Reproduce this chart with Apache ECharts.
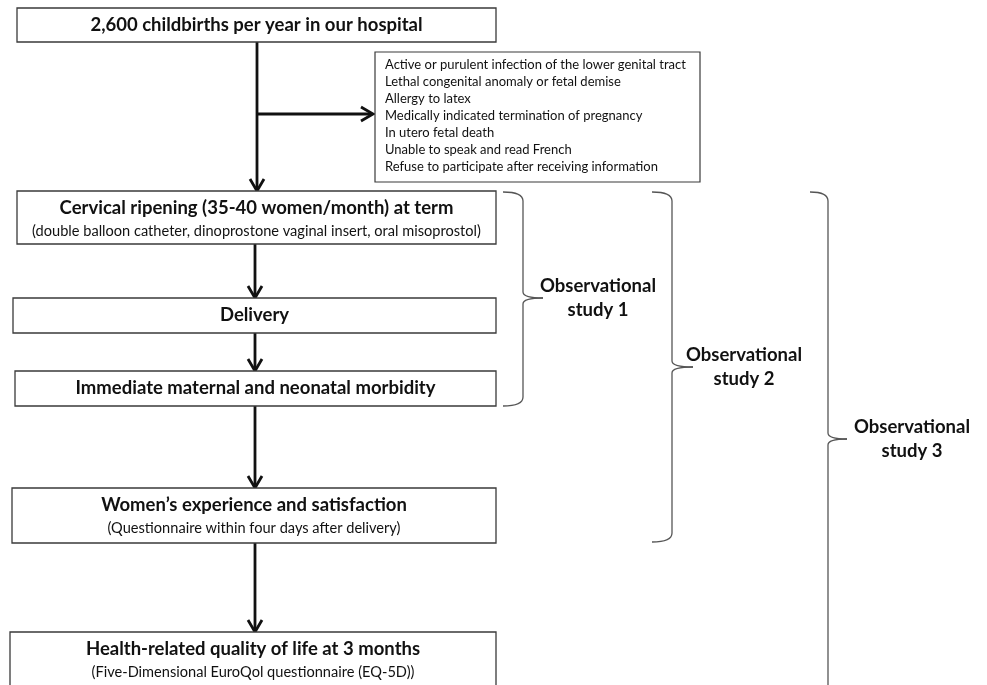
<!DOCTYPE html>
<html>
<head>
<meta charset="utf-8">
<script src="https://cdn.jsdelivr.net/npm/echarts@6/dist/echarts.min.js"></script>
<style>
html, body { margin: 0; padding: 0; background: #fff; }
#main { width: 987px; height: 685px; }
</style>
</head>
<body>
<div id="main"></div>
<script>
// flow steps
const stepTitles = [
  '2,600 childbirths per year in our hospital',
  'Cervical ripening (35-40 women/month) at term',
  'Delivery',
  'Immediate maternal and neonatal morbidity',
  'Women\u2019s experience and satisfaction',
  'Health-related quality of life at 3 months'
];
const stepNotes = [
  '',
  '(double balloon catheter, dinoprostone vaginal insert, oral misoprostol)',
  '',
  '',
  '(Questionnaire within four days after delivery)',
  '(Five-Dimensional EuroQol questionnaire (EQ-5D))'
];
const exclusions = [
  'Active or purulent infection of the lower genital tract',
  'Lethal congenital anomaly or fetal demise',
  'Allergy to latex',
  'Medically indicated termination of pregnancy',
  'In utero fetal death',
  'Unable to speak and read French',
  'Refuse to participate after receiving information'
];
const studyLabels = ['Observational\nstudy 1', 'Observational\nstudy 2', 'Observational\nstudy 3'];

// layout, in page units (drawn through the hidden axes)
const stepLeft = [17, 17, 13, 15, 12, 10];
const stepTop = [8, 191, 298, 371, 488, 632];
const stepBottom = [42, 244, 333, 406, 543, 700];
const stepRight = 496;
const arrowX = [257, 255, 255, 255, 255];
const exclusionBox = [375, 52, 700, 182];
const branchY = 114;
const braceLeft = [503, 652, 810];
const braceSpine = [523, 672, 828];
const braceTip = [543, 693, 847];
const braceTop = [192, 192, 192];
const braceMid = [298, 367, 439];
const braceBottom = [406, 542, 720];
const labelX = [598, 744, 912];

const FONT = 'Lato, "Open Sans", sans-serif';
const chart = echarts.init(document.getElementById('main'));

function txt(text, x, y, font, align) {
  return {
    type: 'text',
    style: {
      text: text, x: x, y: y, font: font, fill: '#111',
      align: align, verticalAlign: 'middle',
      textAlign: align, textVerticalAlign: 'middle', lineHeight: 24
    }
  };
}

function renderStep(params, api) {
  const i = params.dataIndex;
  const a = api.coord([api.value(0), api.value(1)]);
  const b = api.coord([api.value(2), api.value(3)]);
  const cx = (a[0] + b[0]) / 2;
  const kids = [{
    type: 'rect',
    shape: { x: a[0], y: a[1], width: b[0] - a[0], height: b[1] - a[1] },
    style: { fill: '#fff', stroke: '#3a3a3a', lineWidth: 1.3 }
  }];
  if (stepNotes[i]) {
    kids.push(txt(stepTitles[i], cx, a[1] + 17, 'bold 18.5px ' + FONT, 'center'));
    kids.push(txt(stepNotes[i], cx, a[1] + 40, '14.6px ' + FONT, 'center'));
  } else {
    kids.push(txt(stepTitles[i], cx, (a[1] + b[1]) / 2, 'bold 18.5px ' + FONT, 'center'));
  }
  return { type: 'group', children: kids };
}

function renderArrow(params, api) {
  const a = api.coord([api.value(0), api.value(1)]);
  const b = api.coord([api.value(2), api.value(3)]);
  const dx = b[0] - a[0], dy = b[1] - a[1];
  const len = Math.sqrt(dx * dx + dy * dy);
  const ux = dx / len, uy = dy / len;
  const h = 12, w = 7;
  const p1 = [b[0] - ux * h - uy * w, b[1] - uy * h + ux * w];
  const p2 = [b[0] - ux * h + uy * w, b[1] - uy * h - ux * w];
  return {
    type: 'group',
    children: [
      { type: 'line', shape: { x1: a[0], y1: a[1], x2: b[0] - ux * 1.5, y2: b[1] - uy * 1.5 }, style: { stroke: '#111', lineWidth: 2.8 } },
      { type: 'polyline', shape: { points: [p1, [b[0], b[1]], p2] }, style: { stroke: '#111', lineWidth: 2.8, fill: null, lineJoin: 'miter' } }
    ]
  };
}

function renderExclusion(params, api) {
  const a = api.coord([api.value(0), api.value(1)]);
  const b = api.coord([api.value(2), api.value(3)]);
  const kids = [{
    type: 'rect',
    shape: { x: a[0], y: a[1], width: b[0] - a[0], height: b[1] - a[1] },
    style: { fill: '#fff', stroke: '#3a3a3a', lineWidth: 1.2 }
  }];
  exclusions.forEach(function (t, k) {
    kids.push(txt(t, a[0] + 10, a[1] + 13 + k * 17, '13px ' + FONT, 'left'));
  });
  return { type: 'group', children: kids };
}

function renderBrace(params, api) {
  const i = params.dataIndex;
  const x0 = api.coord([api.value(0), 0])[0];
  const xs = api.coord([api.value(1), 0])[0];
  const xt = api.coord([api.value(2), 0])[0];
  const yt = api.coord([0, api.value(3)])[1];
  const ym = api.coord([0, api.value(4)])[1];
  const yb = api.coord([0, api.value(5)])[1];
  const lx = api.coord([api.value(6), 0])[0];
  const st = { stroke: '#555', lineWidth: 1.3, fill: null };
  return {
    type: 'group',
    children: [
      { type: 'bezierCurve', shape: { x1: x0, y1: yt, cpx1: xs, cpy1: yt, x2: xs, y2: yt + 9 }, style: st },
      { type: 'line', shape: { x1: xs, y1: yt + 9, x2: xs, y2: ym - 6 }, style: st },
      { type: 'bezierCurve', shape: { x1: xs, y1: ym - 6, cpx1: xs, cpy1: ym, x2: xt, y2: ym }, style: st },
      { type: 'bezierCurve', shape: { x1: xt, y1: ym, cpx1: xs, cpy1: ym, x2: xs, y2: ym + 6 }, style: st },
      { type: 'line', shape: { x1: xs, y1: ym + 6, x2: xs, y2: yb - 9 }, style: st },
      { type: 'bezierCurve', shape: { x1: xs, y1: yb - 9, cpx1: xs, cpy1: yb, x2: x0, y2: yb }, style: st },
      txt(studyLabels[i], lx, ym, 'bold 18.5px ' + FONT, 'center')
    ]
  };
}

const stepData = stepTitles.map(function (t, i) {
  return [stepLeft[i], stepTop[i], stepRight, stepBottom[i]];
});
const arrowData = arrowX.map(function (x, i) {
  return [x, stepBottom[i], x, stepTop[i + 1]];
});
arrowData.push([arrowX[0], branchY, exclusionBox[0] - 2, branchY]);
const braceData = studyLabels.map(function (t, i) {
  return [braceLeft[i], braceSpine[i], braceTip[i], braceTop[i], braceMid[i], braceBottom[i], labelX[i]];
});

chart.setOption({
  animation: false,
  backgroundColor: '#fff',
  grid: { left: 0, right: 0, top: 0, bottom: 0 },
  xAxis: { type: 'value', min: 0, max: 987, show: false },
  yAxis: { type: 'value', min: 0, max: 685, inverse: true, show: false },
  series: [
    { type: 'custom', renderItem: renderArrow, data: arrowData, clip: false, silent: true, z: 1 },
    { type: 'custom', renderItem: renderStep, data: stepData, clip: false, silent: true, z: 2 },
    { type: 'custom', renderItem: renderExclusion, data: [exclusionBox], clip: false, silent: true, z: 2 },
    { type: 'custom', renderItem: renderBrace, data: braceData, clip: false, silent: true, z: 2 }
  ]
});
</script>
</body>
</html>
